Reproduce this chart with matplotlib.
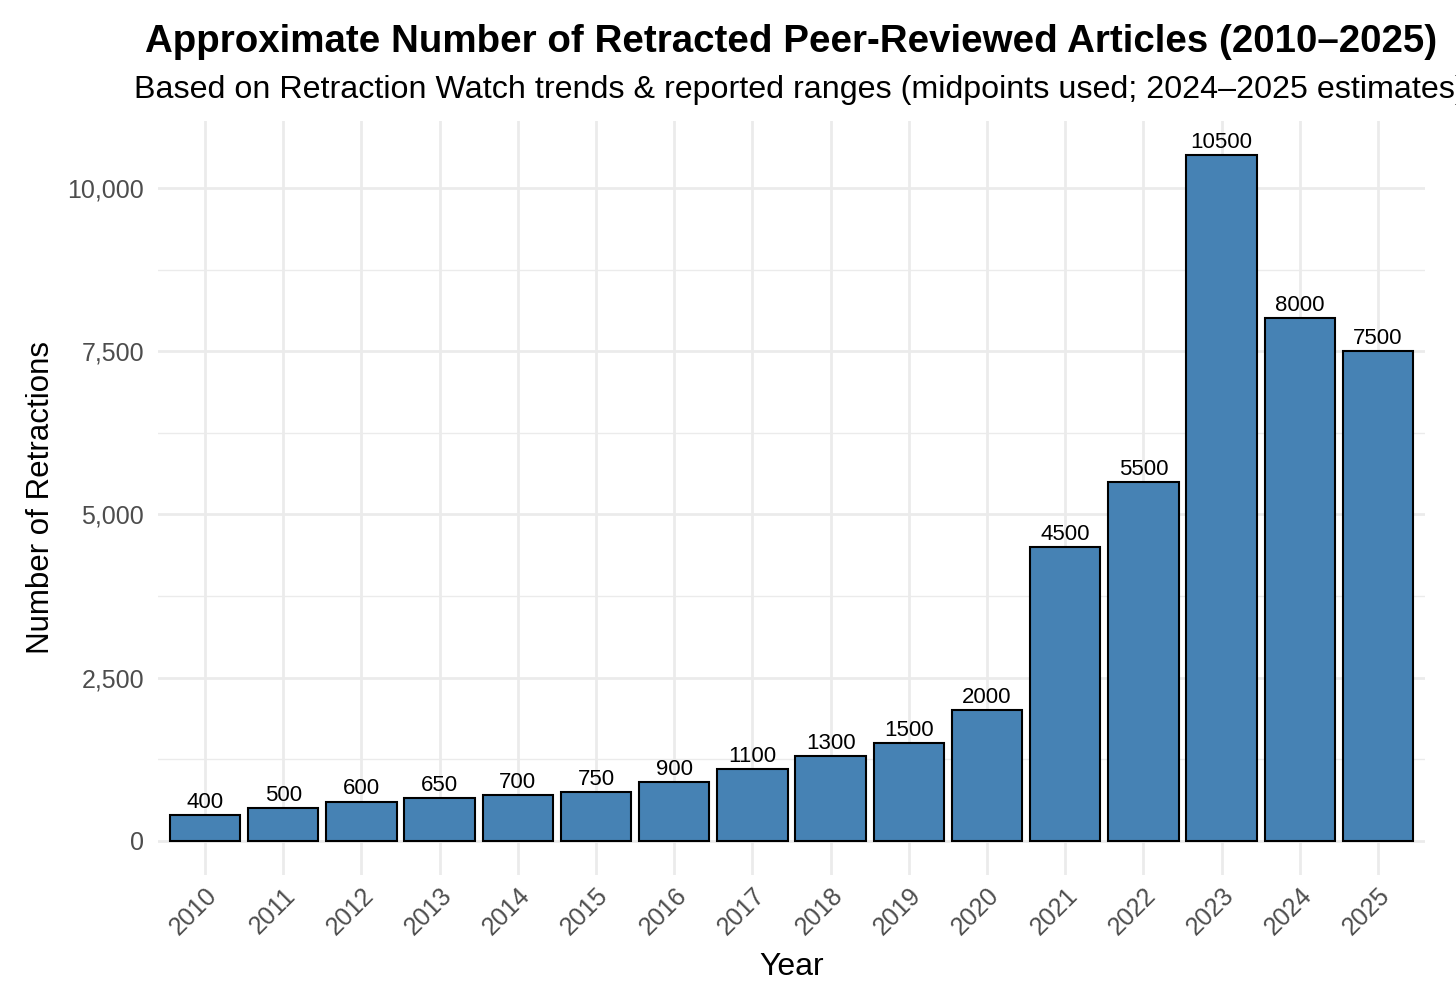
import matplotlib
matplotlib.use("Agg")
import matplotlib.pyplot as plt
import numpy as np
from matplotlib.ticker import FuncFormatter, MultipleLocator

years = ["2010", "2011", "2012", "2013", "2014", "2015", "2016", "2017",
         "2018", "2019", "2020", "2021", "2022", "2023", "2024", "2025"]
retractions = [400, 500, 600, 650, 700, 750, 900, 1100,
               1300, 1500, 2000, 4500, 5500, 10500, 8000, 7500]

title = "Approximate Number of Retracted Peer-Reviewed Articles (2010\u20132025)"
subtitle = "Based on Retraction Watch trends & reported ranges (midpoints used; 2024\u20132025 estimates)"

plt.rcParams['font.family'] = ['Liberation Sans', 'DejaVu Sans']

fig = plt.figure(figsize=(14.56, 9.91), dpi=100)
ax = fig.add_axes([158/1456, 1-875/991, (1425-158)/1456, (875-121)/991])

x = np.arange(1, len(years) + 1)
bars = ax.bar(x, retractions, width=0.9, color="#4682B4", edgecolor="black",
              linewidth=1.5, zorder=3)
for xi, v in zip(x, retractions):
    ax.annotate(str(v), (xi, v), xytext=(0, 1.5), textcoords="offset points",
                ha="center", va="bottom", fontsize=16, color="black", zorder=4)

ymax = max(retractions)
ax.set_xlim(0.4, len(years) + 0.6)
ax.set_ylim(-0.05 * ymax, 1.05 * ymax)
ax.set_xticks(x)
ax.set_xticklabels(years, rotation=45, ha="right", va="top",
                   rotation_mode="anchor", fontsize=18, color="#4D4D4D")
ax.yaxis.set_major_locator(MultipleLocator(2500))
ax.yaxis.set_minor_locator(MultipleLocator(1250))
ax.yaxis.set_major_formatter(FuncFormatter(lambda v, p: f"{int(v):,}"))
for lab in ax.get_yticklabels():
    lab.set_fontsize(18)
    lab.set_color("#4D4D4D")

ax.grid(True, which="major", axis="both", color="#EBEBEB", linewidth=2.0, zorder=0)
ax.grid(True, which="minor", axis="y", color="#EBEBEB", linewidth=1.0, zorder=0)
ax.tick_params(axis="both", which="both", length=0)
ax.tick_params(axis="y", pad=10)
ax.tick_params(axis="x", pad=6)
for s in ax.spines.values():
    s.set_visible(False)

ax.set_xlabel("Year", fontsize=23, labelpad=9)
ax.set_ylabel("Number of Retractions", fontsize=22.5, labelpad=8)

cx = (158 + 1425) / 2 / 1456
fig.text(cx, 1 - 42/991, title, ha="center", va="center", fontsize=27.7,
         fontweight="bold")
fig.text(cx + 0.006, 1 - 90/991, subtitle, ha="center", va="center", fontsize=23.2)

fig.savefig("out.png", dpi=100, facecolor="white")
